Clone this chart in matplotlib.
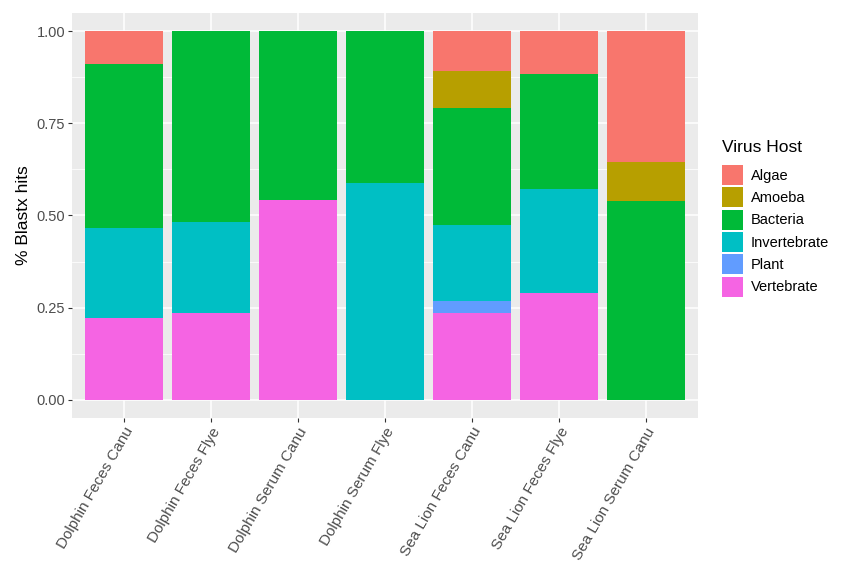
import numpy as np
import matplotlib
matplotlib.use("Agg")
import matplotlib.pyplot as plt
import matplotlib.transforms as mtransforms
from matplotlib.patches import Patch

samples = ["Dolphin Feces Canu", "Dolphin Feces Flye", "Dolphin Serum Canu",
           "Dolphin Serum Flye", "Sea Lion Feces Canu", "Sea Lion Feces Flye",
           "Sea Lion Serum Canu"]

# fractions of Blastx hits per virus host
vertebrate = [0.221, 0.236, 0.542, 0.000, 0.236, 0.289, 0.000]
plant = [0.000, 0.000, 0.000, 0.000, 0.031, 0.000, 0.000]
invertebrate = [0.244, 0.247, 0.000, 0.589, 0.208, 0.282, 0.000]
bacteria = [0.446, 0.517, 0.458, 0.411, 0.316, 0.314, 0.539]
amoeba = [0.000, 0.000, 0.000, 0.000, 0.102, 0.000, 0.105]
algae = [0.089, 0.000, 0.000, 0.000, 0.107, 0.115, 0.356]

hosts = ["Algae", "Amoeba", "Bacteria", "Invertebrate", "Plant", "Vertebrate"]
colors = {"Algae": "#F8766D", "Amoeba": "#B79F00", "Bacteria": "#00BA38",
          "Invertebrate": "#00BFC4", "Plant": "#619CFF", "Vertebrate": "#F564E3"}

plt.rcParams['font.family'] = ['Liberation Sans', 'DejaVu Sans']

fig = plt.figure(figsize=(8.51, 5.71), dpi=100)
ax = fig.add_axes([72 / 851, 1 - 418 / 571, (698 - 72) / 851, (418 - 13) / 571])

x = np.arange(1, len(samples) + 1)
# ggplot stacks the first level on top, so draw from the last one up
stack = [("Vertebrate", vertebrate), ("Plant", plant), ("Invertebrate", invertebrate),
         ("Bacteria", bacteria), ("Amoeba", amoeba), ("Algae", algae)]
bottom = np.zeros(len(samples))
for name, vals in stack:
    vals = np.array(vals)
    ax.bar(x, vals, bottom=bottom, width=0.9, color=colors[name], zorder=3)
    bottom += vals

ax.set_facecolor("#EBEBEB")
ax.set_xlim(0.4, 7.6)
ax.set_ylim(-0.05, 1.05)
ax.set_yticks([0, 0.25, 0.5, 0.75, 1.0])
ax.set_yticklabels(["0.00", "0.25", "0.50", "0.75", "1.00"])
ax.set_yticks([0.125, 0.375, 0.625, 0.875], minor=True)
ax.set_xticks(x)
ax.set_xticklabels(samples, rotation=60, ha="right", va="top", rotation_mode="anchor",
                   fontsize=11)
# nudge the rotated labels a little right, like ggplot's hjust=1
shift = mtransforms.ScaledTranslation(5 / 100, 2 / 100, fig.dpi_scale_trans)
for lab in ax.get_xticklabels():
    lab.set_transform(lab.get_transform() + shift)
ax.grid(True, which="major", color="white", linewidth=1.1, zorder=0)
ax.grid(True, which="minor", axis="y", color="white", linewidth=0.55, zorder=0)
ax.tick_params(which="major", length=3, color="#333333", labelcolor="#4D4D4D",
               width=0.8, pad=2)
ax.tick_params(axis="y", labelsize=10.5)
ax.tick_params(which="minor", length=0)
for s in ax.spines.values():
    s.set_visible(False)

ax.set_ylabel("% Blastx hits", fontsize=12.5, color="black", labelpad=4)

handles = [Patch(facecolor=colors[h], edgecolor="none", label=h) for h in hosts]
leg = fig.legend(handles=handles, title="Virus Host", loc="upper left",
                 bbox_to_anchor=(709 / 851, 1 - 127 / 571), frameon=False,
                 fontsize=10.5, title_fontsize=12.5, handlelength=1.4,
                 handleheight=1.73, labelspacing=0.165, handletextpad=0.55)
leg._legend_box.align = "left"
leg._legend_box.sep = 7

fig.savefig("out.png", dpi=100)
